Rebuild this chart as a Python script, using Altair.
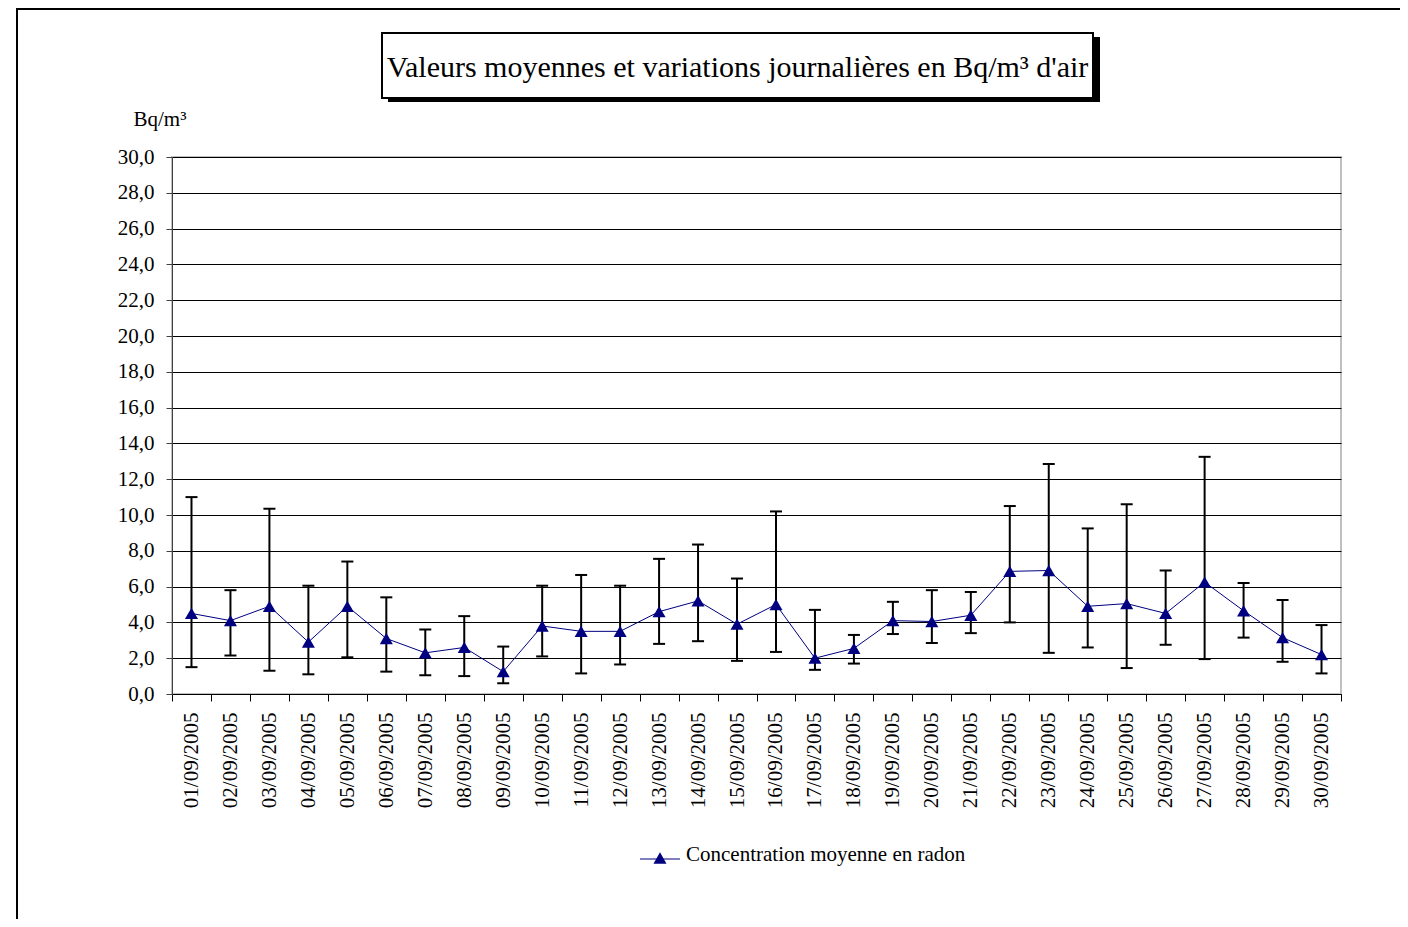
import altair as alt
import pandas as pd

# ---------------- data ----------------
dates = ["01/09/2005", "02/09/2005", "03/09/2005", "04/09/2005", "05/09/2005",
         "06/09/2005", "07/09/2005", "08/09/2005", "09/09/2005", "10/09/2005",
         "11/09/2005", "12/09/2005", "13/09/2005", "14/09/2005", "15/09/2005",
         "16/09/2005", "17/09/2005", "18/09/2005", "19/09/2005", "20/09/2005",
         "21/09/2005", "22/09/2005", "23/09/2005", "24/09/2005", "25/09/2005",
         "26/09/2005", "27/09/2005", "28/09/2005", "29/09/2005", "30/09/2005"]
means = [4.5, 4.1, 4.9, 2.9, 4.9, 3.1, 2.3, 2.6, 1.25, 3.8,
         3.5, 3.5, 4.6, 5.2, 3.9, 5.0, 2.0, 2.55, 4.1, 4.05,
         4.4, 6.85, 6.9, 4.9, 5.05, 4.5, 6.25, 4.65, 3.15, 2.2]
highs = [11.0, 5.8, 10.35, 6.05, 7.4, 5.4, 3.6, 4.35, 2.65, 6.05,
         6.65, 6.05, 7.55, 8.35, 6.45, 10.2, 4.7, 3.3, 5.15, 5.8,
         5.7, 10.5, 12.85, 9.25, 10.6, 6.9, 13.25, 6.2, 5.25, 3.85]
lows = [1.5, 2.15, 1.3, 1.1, 2.05, 1.25, 1.05, 1.0, 0.6, 2.1,
        1.15, 1.65, 2.8, 2.95, 1.85, 2.35, 1.35, 1.7, 3.35, 2.85,
        3.4, 4.0, 2.3, 2.6, 1.45, 2.75, 1.95, 3.15, 1.8, 1.15]
y_ticks = [0, 2, 4, 6, 8, 10, 12, 14, 16, 18, 20, 22, 24, 26, 28, 30]
series_name = ["Concentration moyenne en radon"]
title_text = ["Valeurs moyennes et variations journalières en Bq/m³ d'air"]
y_title = "Bq/m³"

df = pd.DataFrame({"date": dates, "mean": means, "high": highs, "low": lows})
legend_df = pd.DataFrame({"s": series_name})
title_df = pd.DataFrame({"t": title_text})

FONT = "Liberation Serif"
NAVY = "#000080"
MARKER_SIZE = 170

x_enc = alt.X(
    "date:N", sort=None,
    scale=alt.Scale(type="band", paddingInner=0, paddingOuter=0),
    axis=alt.Axis(title=None, labelAngle=-90, tickBand="extent", tickSize=7,
                  labelPadding=11, labelFont=FONT, labelFontSize=21,
                  labelColor="black", domainColor="black", tickColor="black",
                  grid=False, labelOverlap=False),
)


def y_of(field):
    return alt.Y(
        field,
        scale=alt.Scale(domain=[0, 30], nice=False),
        axis=alt.Axis(
            title=y_title, values=y_ticks,
            labelExpr="replace(format(datum.value, '.1f'), '.', ',')",
            labelFont=FONT, labelFontSize=21, labelColor="black",
            tickSize=6, labelPadding=12, tickColor="#404040",
            domainColor="#404040",
            grid=True, gridColor="black", gridWidth=1,
            titleAngle=0, titleX=-39, titleY=-32, titleAlign="left",
            titleBaseline="alphabetic", titleFont=FONT, titleFontSize=21,
            titleFontWeight="normal", titleColor="black",
        ),
    )


base = alt.Chart(df)
bars = base.mark_rule(color="black", strokeWidth=2).encode(
    x=x_enc, y=y_of("low:Q"), y2="high:Q")
cap_hi = base.mark_tick(color="black", thickness=2, size=12, opacity=1).encode(
    x=x_enc, y=y_of("high:Q"))
cap_lo = base.mark_tick(color="black", thickness=2, size=12, opacity=1).encode(
    x=x_enc, y=y_of("low:Q"))
line = base.mark_line(color=NAVY, strokeWidth=1).encode(x=x_enc, y=y_of("mean:Q"))
pts = base.mark_point(shape="triangle-up", filled=True, size=MARKER_SIZE,
                      color=NAVY, opacity=1).encode(x=x_enc, y=y_of("mean:Q"))

# ---- title box with shadow ----
tchart = alt.Chart(title_df)
shadow = tchart.mark_rect(color="black").encode(
    x=alt.value(216), x2=alt.value(928), y=alt.value(-120), y2=alt.value(-55))
box = tchart.mark_rect(fill="white", stroke="black", strokeWidth=2).encode(
    x=alt.value(210), x2=alt.value(921), y=alt.value(-124), y2=alt.value(-59))
title = tchart.mark_text(font=FONT, fontSize=30, color="black", align="center",
                         baseline="alphabetic").encode(
    x=alt.value(565.5), y=alt.value(-80), text="t:N")

# ---- legend ----
lchart = alt.Chart(legend_df)
leg_line = lchart.mark_rule(color=NAVY, strokeWidth=1).encode(
    x=alt.value(468), x2=alt.value(508), y=alt.value(702))
leg_pt = lchart.mark_point(shape="triangle-up", filled=True, size=MARKER_SIZE,
                           color=NAVY, opacity=1).encode(
    x=alt.value(488), y=alt.value(701))
leg_txt = lchart.mark_text(font=FONT, fontSize=21, color="black", align="left",
                           baseline="alphabetic").encode(
    x=alt.value(514), y=alt.value(704), text="s:N")

# ---- outer frame (top and left edges visible) ----
frame_left = lchart.mark_rule(color="black", strokeWidth=2).encode(
    x=alt.value(-155), y=alt.value(-149), y2=alt.value(762))
frame_top = lchart.mark_rule(color="black", strokeWidth=2).encode(
    x=alt.value(-156), x2=alt.value(1228), y=alt.value(-148))

chart = alt.layer(
    bars, cap_hi, cap_lo, line, pts,
    shadow, box, title,
    leg_line, leg_pt, leg_txt,
    frame_left, frame_top,
).properties(
    width=1169, height=537,
    autosize=alt.AutoSizeParams(type="none"),
    padding={"left": 164, "top": 149, "right": 59, "bottom": 225},
    background="white",
).configure_view(stroke="#c0c0c0", strokeWidth=2)

chart.save("out.html", embed_options={"renderer": "svg", "actions": False})
